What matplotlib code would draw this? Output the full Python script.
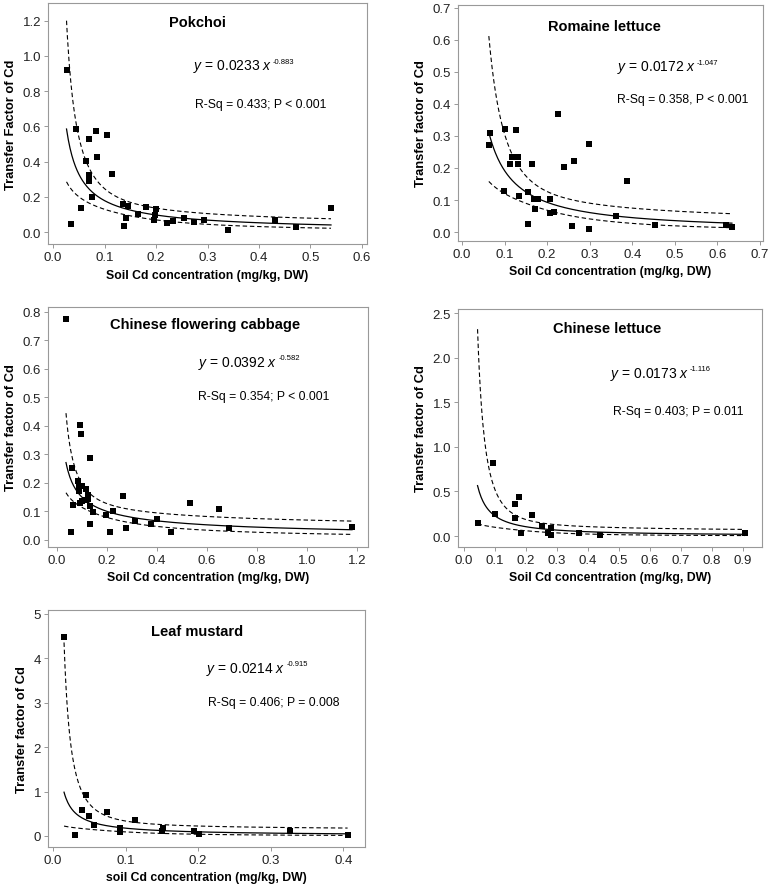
import numpy as np
import matplotlib
matplotlib.use("Agg")
import matplotlib.pyplot as plt

plt.rcParams['font.family'] = ['Liberation Sans', 'DejaVu Sans']
plt.rcParams['mathtext.fontset'] = 'custom'
plt.rcParams['mathtext.rm'] = 'Liberation Sans'
plt.rcParams['mathtext.it'] = 'Liberation Sans:italic'

# ---- data ----
titles = ["Pokchoi", "Romaine lettuce", "Chinese flowering cabbage", "Chinese lettuce", "Leaf mustard"]
ylabels = ["Transfer Factor of Cd", "Transfer factor of Cd", "Transfer factor of Cd",
           "Transfer factor of Cd", "Transfer factor of Cd"]
xlabels = ["Soil Cd concentration (mg/kg, DW)"] * 4 + ["soil Cd concentration (mg/kg, DW)"]
coef_a = [0.0233, 0.0172, 0.0392, 0.0173, 0.0214]
coef_b = [-0.883, -1.047, -0.582, -1.116, -0.915]
stats_text = ["R-Sq = 0.433; P < 0.001", "R-Sq = 0.358, P < 0.001", "R-Sq = 0.354; P < 0.001",
              "R-Sq = 0.403; P = 0.011", "R-Sq = 0.406; P = 0.008"]
t_crit = [2.045, 2.048, 2.040, 2.160, 2.145]

pok_x = [0.026, 0.034, 0.044, 0.055, 0.063, 0.069, 0.069, 0.069, 0.075, 0.083, 0.086, 0.104,
         0.115, 0.135, 0.146, 0.138, 0.141, 0.165, 0.180, 0.199, 0.196, 0.198, 0.222, 0.232,
         0.254, 0.274, 0.294, 0.339, 0.431, 0.472, 0.540]
pok_y = [0.919, 0.044, 0.582, 0.136, 0.404, 0.527, 0.322, 0.292, 0.201, 0.573, 0.428, 0.548,
         0.328, 0.161, 0.150, 0.032, 0.080, 0.100, 0.140, 0.129, 0.070, 0.099, 0.053, 0.063,
         0.082, 0.055, 0.068, 0.009, 0.070, 0.027, 0.135]

rom_x = [0.063, 0.066, 0.102, 0.098, 0.113, 0.117, 0.127, 0.132, 0.131, 0.135, 0.155, 0.154,
         0.165, 0.169, 0.172, 0.179, 0.207, 0.207, 0.217, 0.225, 0.239, 0.264, 0.258, 0.298,
         0.298, 0.361, 0.387, 0.454, 0.620, 0.634]
rom_y = [0.273, 0.310, 0.322, 0.127, 0.212, 0.233, 0.319, 0.235, 0.213, 0.111, 0.125, 0.025,
         0.212, 0.103, 0.071, 0.103, 0.103, 0.059, 0.064, 0.369, 0.202, 0.223, 0.020, 0.275,
         0.010, 0.049, 0.158, 0.023, 0.021, 0.015]

cfc_x = [0.036, 0.091, 0.097, 0.133, 0.059, 0.083, 0.089, 0.100, 0.087, 0.115, 0.123, 0.091,
         0.101, 0.112, 0.123, 0.063, 0.133, 0.144, 0.131, 0.057, 0.197, 0.223, 0.212, 0.265,
         0.277, 0.311, 0.376, 0.400, 0.457, 0.533, 0.647, 0.687, 1.180]
cfc_y = [0.774, 0.402, 0.370, 0.288, 0.251, 0.208, 0.185, 0.189, 0.171, 0.177, 0.157, 0.131,
         0.135, 0.141, 0.144, 0.124, 0.119, 0.097, 0.056, 0.027, 0.087, 0.103, 0.027, 0.155,
         0.041, 0.068, 0.056, 0.074, 0.029, 0.129, 0.108, 0.043, 0.045]

chl_x = [0.044, 0.093, 0.101, 0.165, 0.178, 0.164, 0.183, 0.221, 0.251, 0.270, 0.280, 0.282,
         0.371, 0.438, 0.905]
chl_y = [0.142, 0.820, 0.251, 0.356, 0.434, 0.202, 0.037, 0.240, 0.116, 0.030, 0.015, 0.090,
         0.030, 0.015, 0.030]

lm_x = [0.0152, 0.031, 0.040, 0.045, 0.050, 0.056, 0.075, 0.093, 0.092, 0.113, 0.152, 0.150,
        0.195, 0.201, 0.326, 0.406]
lm_y = [4.49, 0.015, 0.58, 0.92, 0.44, 0.25, 0.53, 0.18, 0.10, 0.36, 0.19, 0.11,
        0.11, 0.045, 0.11, 0.015]

xs_all = [pok_x, rom_x, cfc_x, chl_x, lm_x]
ys_all = [pok_y, rom_y, cfc_y, chl_y, lm_y]

xticks_all = [np.arange(0, 0.61, 0.1), np.arange(0, 0.71, 0.1), np.arange(0, 1.21, 0.2),
              np.arange(0, 0.91, 0.1), np.arange(0, 0.41, 0.1)]
yticks_all = [np.arange(0, 1.21, 0.2), np.arange(0, 0.71, 0.1), np.arange(0, 0.81, 0.1),
              np.arange(0, 2.51, 0.5), np.arange(0, 5.1, 1)]
yfmt = ["%.1f", "%.1f", "%.1f", "%.1f", "%d"]
xlims = [(-0.01, 0.61), (-0.0094, 0.707), (-0.036, 1.244), (-0.019, 0.961), (-0.0069, 0.430)]
ylims = [(-0.068, 1.30), (-0.028, 0.709), (-0.025, 0.8175), (-0.123, 2.545), (-0.248, 5.09)]

# axes rectangles in pixels (left, top, right, bottom)
W, H = 772.0, 887.0
boxes_px = [(48, 4, 367, 245), (458, 6, 763, 242), (48, 308, 368, 548),
            (458, 310, 762, 548), (48, 611, 365, 848)]
title_pos = [(0.47, 0.92), (0.48, 0.91), (0.49, 0.93), (0.49, 0.92), (0.47, 0.91)]
eq_pos = [(0.455, 0.74), (0.52, 0.74), (0.47, 0.77), (0.50, 0.73), (0.50, 0.755)]
st_pos = [(0.46, 0.58), (0.52, 0.60), (0.47, 0.63), (0.51, 0.57), (0.505, 0.61)]

fig = plt.figure(figsize=(7.72, 8.87), dpi=100)

for i in range(5):
    l, t, r, b = boxes_px[i]
    ax = fig.add_axes([l / W, 1 - b / H, (r - l) / W, (b - t) / H])
    x = np.array(xs_all[i])
    y = np.array(ys_all[i])

    ax.scatter(x, y, marker='s', s=14, color='black', zorder=3, linewidths=0)

    # fitted power curve and 95% confidence band (log-log regression)
    xf = np.linspace(x.min(), x.max(), 300)
    a, bb = coef_a[i], coef_b[i]
    lx = np.log(x)
    res = np.log(y) - (np.log(a) + bb * lx)
    n = len(x)
    s = np.sqrt(np.sum(res ** 2) / (n - 2))
    sxx = np.sum((lx - lx.mean()) ** 2)
    lf = np.log(a) + bb * np.log(xf)
    half = t_crit[i] * s * np.sqrt(1.0 / n + (np.log(xf) - lx.mean()) ** 2 / sxx)
    ax.plot(xf, np.exp(lf), color='black', lw=0.9)
    ax.plot(xf, np.exp(lf + half), color='black', lw=0.8, dashes=(4, 2.5))
    ax.plot(xf, np.exp(lf - half), color='black', lw=0.8, dashes=(4, 2.5))

    ax.set_xlim(*xlims[i])
    ax.set_ylim(*ylims[i])
    ax.set_xticks(xticks_all[i])
    ax.set_xticklabels(["%.1f" % v for v in xticks_all[i]])
    ax.set_yticks(yticks_all[i])
    ax.set_yticklabels([yfmt[i] % v for v in yticks_all[i]])
    ax.tick_params(labelsize=9.5, length=3, width=0.6, color='#888888', labelcolor='#222222', pad=2)
    for sp in ax.spines.values():
        sp.set_color('#999999')
        sp.set_linewidth(0.8)

    ax.set_xlabel(xlabels[i], fontsize=8.8, fontweight='bold', labelpad=4)
    ax.set_ylabel(ylabels[i], fontsize=9.3, fontweight='bold', labelpad=4)

    ax.text(title_pos[i][0], title_pos[i][1], titles[i], transform=ax.transAxes,
            ha='center', va='center', fontsize=10.5, fontweight='bold')
    eq = ax.text(eq_pos[i][0], eq_pos[i][1], r'$y$ = %.4f $x$' % a, transform=ax.transAxes,
                 ha='left', va='center', fontsize=10)
    ax.annotate('%.3f' % bb, xy=(1.0, 1.0), xycoords=eq, ha='left', va='top',
                fontsize=5.5, xytext=(0.5, -0.5), textcoords='offset points')
    ax.text(st_pos[i][0], st_pos[i][1], stats_text[i], transform=ax.transAxes,
            ha='left', va='center', fontsize=8.7)

fig.savefig("out.png", dpi=100)
